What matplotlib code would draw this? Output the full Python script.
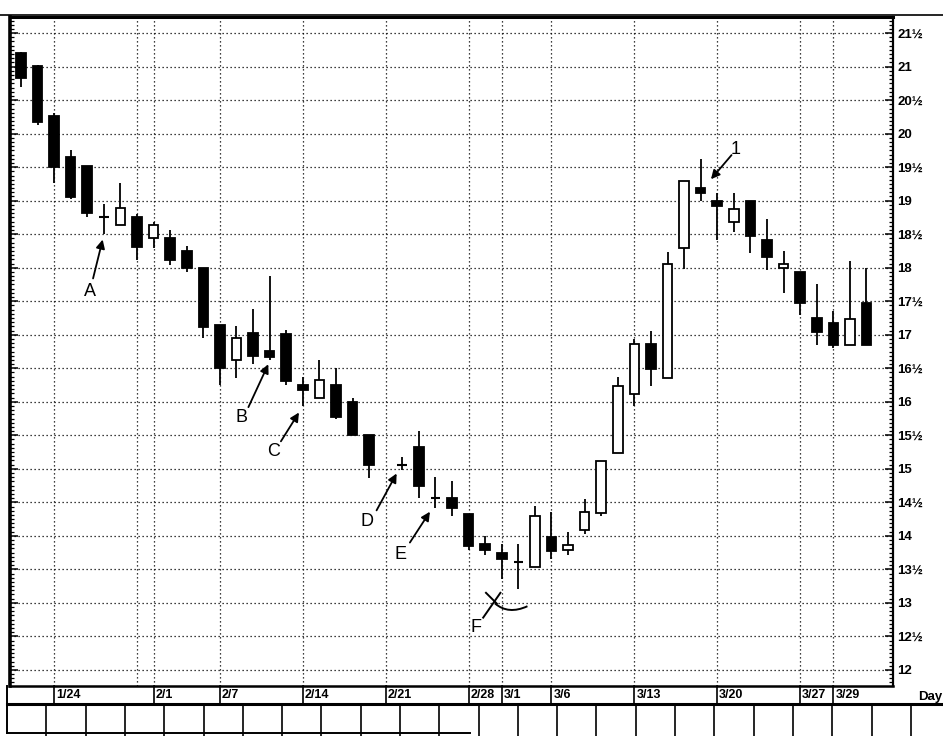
import numpy as np
import matplotlib
matplotlib.use('Agg')
import matplotlib.pyplot as plt
from matplotlib.patches import Rectangle, PathPatch
from matplotlib.path import Path
from matplotlib.lines import Line2D
import matplotlib.transforms as mtransforms
from matplotlib.ticker import MultipleLocator, FuncFormatter

# ---------------- data ----------------
days = ['1/20', '1/21', '1/24', '1/25', '1/26', '1/27', '1/28', '1/31', '2/1', '2/2',
        '2/3', '2/4', '2/7', '2/8', '2/9', '2/10', '2/11', '2/14', '2/15', '2/16',
        '2/17', '2/18', '2/21', '2/22', '2/23', '2/24', '2/25', '2/28', '2/29', '3/1',
        '3/2', '3/3', '3/6', '3/7', '3/8', '3/9', '3/10', '3/13', '3/14', '3/15',
        '3/16', '3/17', '3/20', '3/21', '3/22', '3/23', '3/24', '3/27', '3/28', '3/29',
        '3/30', '3/31']

opens = [21.20, 21.01, 20.27, 19.65, 19.51, 18.76, 18.63, 18.76, 18.44, 18.44,
         18.25, 18.00, 17.15, 16.63, 17.02, 16.76, 17.01, 16.25, 16.06, 16.25,
         16.00, 15.50, None, 15.05, 15.32, 14.56, 14.57, 14.32, 13.88, 13.74,
         13.61, 13.54, 13.99, 13.79, 14.09, 14.34, 15.23, 16.11, 16.86, 16.36,
         18.30, 19.19, 19.00, 18.68, 18.99, 18.42, 18.00, 17.94, 17.25, 17.18,
         16.85, 17.48]
highs = [21.22, 21.02, 20.31, 19.76, 19.51, 18.95, 19.26, 18.80, 18.68, 18.56,
         18.33, 18.00, 17.15, 17.13, 17.38, 17.87, 17.07, 16.37, 16.62, 16.50,
         16.06, 15.50, None, 15.18, 15.57, 14.88, 14.82, 14.32, 14.00, 13.88,
         13.88, 14.44, 14.36, 14.05, 14.55, 15.12, 16.37, 16.93, 17.06, 18.24,
         19.30, 19.62, 19.12, 19.12, 18.99, 18.73, 18.25, 17.94, 17.75, 17.35,
         18.10, 18.00]
lows = [20.70, 20.13, 19.26, 19.02, 18.75, 18.50, 18.63, 18.12, 18.30, 18.04,
        17.93, 16.95, 16.25, 16.36, 16.56, 16.62, 16.25, 15.93, 16.06, 15.75,
        15.50, 14.87, None, 14.98, 14.56, 14.42, 14.29, 13.79, 13.72, 13.35,
        13.20, 13.54, 13.65, 13.72, 14.03, 14.29, 15.23, 15.93, 16.23, 16.36,
        17.98, 18.99, 18.42, 18.53, 18.22, 17.97, 17.62, 17.30, 16.85, 16.80,
        16.85, 16.85]
closes = [20.83, 20.18, 19.50, 19.05, 18.82, 18.76, 18.89, 18.31, 18.63, 18.11,
          17.99, 17.12, 16.50, 16.95, 16.68, 16.67, 16.31, 16.17, 16.32, 15.78,
          15.50, 15.05, None, 15.05, 14.74, 14.56, 14.42, 13.85, 13.79, 13.66,
          13.61, 14.30, 13.78, 13.86, 14.36, 15.12, 16.24, 16.86, 16.49, 18.05,
          19.30, 19.11, 18.92, 18.87, 18.47, 18.16, 18.06, 17.48, 17.04, 16.85,
          17.24, 16.85]

date_labels = ['1/24', '2/1', '2/7', '2/14', '2/21', '2/28', '3/1', '3/6',
               '3/13', '3/20', '3/27', '3/29']
extra_grid_days = ['1/31']

# annotation letters: (text, text pos, arrow tail, arrow head)
notes = [
    ('A', (4.15, 17.64), (4.35, 17.84), (4.93, 18.42)),
    ('B', (13.3, 15.76), (13.72, 15.92), (14.92, 16.56)),
    ('C', (15.26, 15.26), (15.68, 15.41), (16.77, 15.84)),
    ('D', (20.9, 14.22), (21.45, 14.38), (22.66, 14.93)),
    ('E', (22.9, 13.72), (23.46, 13.90), (24.67, 14.36)),
    ('1', (43.1, 19.76), (42.86, 19.68), (41.62, 19.32)),
]

# ---------------- figure ----------------
W, H = 943, 736
fig = plt.figure(figsize=(W / 100, H / 100), dpi=100)
fig.patch.set_facecolor('white')
ax_l, ax_r, ax_t, ax_b = 10, 893, 17, 686
ax = fig.add_axes([ax_l / W, 1 - ax_b / H, (ax_r - ax_l) / W, (ax_b - ax_t) / H])

ax.set_xlim(-0.66, 52.6)
ax.set_ylim(11.76, 21.74)

# grid
dot = (0, (1.0, 2.2))
for yv in np.arange(12, 21.51, 0.5):
    ax.axhline(yv, color='k', lw=0.9, ls=dot, zorder=1)
for d in date_labels + extra_grid_days:
    ax.axvline(days.index(d), color='k', lw=0.9, ls=dot, zorder=1)

# candles
w = 0.58
for i in range(len(days)):
    o, h, l, c = opens[i], highs[i], lows[i], closes[i]
    if o is None:
        continue
    ax.vlines(i, l, h, color='k', lw=1.3, zorder=3)
    if abs(c - o) < 0.015:
        ax.hlines(o, i - w / 2, i + w / 2, color='k', lw=1.5, zorder=4)
    else:
        ax.add_patch(Rectangle((i - w / 2, min(o, c)), w, abs(c - o),
                               facecolor='k' if c < o else 'white',
                               edgecolor='k', lw=1.3, zorder=4))

# annotations
for txt, tp, tail, head in notes:
    ax.text(tp[0], tp[1], txt, fontsize=13, ha='center', va='center',
            family=['Liberation Sans', 'DejaVu Sans'], zorder=6)
    ax.annotate('', xy=head, xytext=tail,
                arrowprops=dict(arrowstyle='-|>', color='k', lw=1.3,
                                mutation_scale=13, shrinkA=0, shrinkB=0),
                zorder=6)

# F mark
ax.text(27.45, 12.64, 'F', fontsize=13, ha='center', va='center',
        family=['Liberation Sans', 'DejaVu Sans'], zorder=6)
ax.plot([27.88, 28.92], [12.78, 13.15], color='k', lw=1.4, zorder=6)
ax.plot([28.05, 28.7], [13.15, 12.99], color='k', lw=1.4, zorder=6)
curve = Path([(28.6, 12.99), (29.4, 12.82), (30.55, 12.95)],
             [Path.MOVETO, Path.CURVE3, Path.CURVE3])
ax.add_patch(PathPatch(curve, facecolor='none', edgecolor='k', lw=1.4, zorder=6))

# axes / ticks
for s in ax.spines.values():
    s.set_color('k')
ax.spines['left'].set_linewidth(2.6)
ax.spines['top'].set_linewidth(2.2)
ax.spines['right'].set_linewidth(1.6)
ax.spines['bottom'].set_linewidth(1.8)

ax.set_xticks([])
ax.yaxis.set_major_locator(MultipleLocator(0.5))
ax.yaxis.set_minor_locator(MultipleLocator(1 / 16))


def fmt(v, pos):
    n = int(np.floor(v + 1e-6))
    return f'{n}½' if abs(v - n - 0.5) < 1e-6 else f'{n}'


ax.yaxis.set_major_formatter(FuncFormatter(fmt))
ax.tick_params(axis='y', which='both', direction='in', left=True, right=True,
               labelleft=False, labelright=True, color='k')
ax.tick_params(axis='y', which='major', length=6, width=1.1, pad=3,
               labelsize=9.5)
ax.tick_params(axis='y', which='minor', length=3, width=0.9)
for lab in ax.get_yticklabels():
    lab.set_fontweight('bold')
    lab.set_family(['Liberation Sans Narrow', 'Liberation Sans', 'DejaVu Sans'])

# date row below the plot
blend = mtransforms.blended_transform_factory(ax.transData, ax.transAxes)
row_h = 18 / (ax_b - ax_t)
for d in date_labels:
    xi = days.index(d)
    ax.plot([xi, xi], [0, -row_h], color='k', lw=1.2, transform=blend,
            clip_on=False)
    ax.text(xi + 0.12, -row_h / 2, d, transform=blend, ha='left', va='center',
            fontsize=9, fontweight='bold',
            family=['Liberation Sans Narrow', 'Liberation Sans', 'DejaVu Sans'])

# figure-level frame pieces (date row border, "Day", empty table)
ft = fig.transFigure


def fx(px):
    return px / W


def fy(py):
    return 1 - py / H


fig.add_artist(Line2D([fx(7), fx(7)], [fy(686), fy(733)], color='k', lw=1.4, transform=ft))
fig.add_artist(Line2D([fx(7), fx(943)], [fy(704), fy(704)], color='k', lw=2.2, transform=ft))
fig.add_artist(Line2D([fx(7), fx(470)], [fy(733), fy(733)], color='k', lw=1.4, transform=ft))
fig.add_artist(Line2D([fx(0), fx(943)], [fy(15), fy(15)], color='k', lw=1.2, transform=ft))
for xc in np.arange(7 + 39.3, 943, 39.3):
    fig.add_artist(Line2D([fx(xc), fx(xc)], [fy(704), fy(736)], color='k', lw=1.2,
                          transform=ft))
fig.text(fx(942), fy(697), 'Day', ha='right', va='center', fontsize=9.5,
         fontweight='bold', family=['Liberation Sans Narrow', 'Liberation Sans', 'DejaVu Sans'])

fig.savefig('out.png', dpi=100, facecolor='white')
